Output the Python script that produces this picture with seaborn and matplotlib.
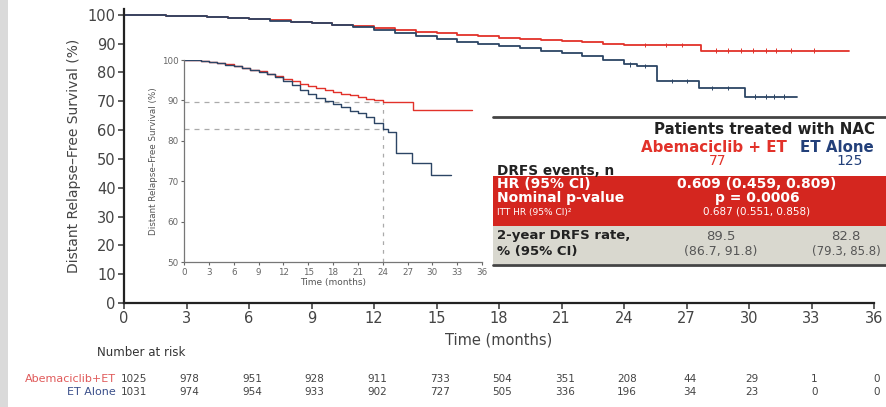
import numpy as np
import pandas as pd
import matplotlib
matplotlib.use("Agg")
import matplotlib.pyplot as plt
from matplotlib.patches import Rectangle
from matplotlib.transforms import blended_transform_factory
import seaborn as sns

# ---------------- data ----------------
abema_t = [0, 1, 2, 3, 4, 5, 6, 7, 8, 9, 10, 11, 12, 13, 14, 15, 16, 17, 18, 19, 20, 21, 22, 23, 24, 27.7, 34.8]
abema_s = [100, 99.9, 99.7, 99.5, 99.2, 98.9, 98.5, 98.1, 97.6, 97.2, 96.6, 96.0, 95.3, 94.7, 94.1, 93.6, 93.1, 92.6, 92.1, 91.7, 91.3, 90.9, 90.4, 90.0, 89.5, 87.6, 87.6]
et_t = [0, 1, 2, 3, 4, 5, 6, 7, 8, 9, 10, 11, 12, 13, 14, 15, 16, 17, 18, 19, 20, 21, 22, 23, 24, 24.6, 25.6, 27.6, 29.8, 32.3]
et_s = [100, 99.9, 99.7, 99.5, 99.2, 98.8, 98.4, 98.0, 97.5, 97.0, 96.5, 95.8, 94.8, 93.7, 92.6, 91.5, 90.6, 89.9, 89.0, 88.3, 87.5, 86.8, 85.8, 84.4, 82.8, 82.2, 77.0, 74.6, 71.6, 71.6]
abema_cens = [25.0, 26.0, 26.8, 28.4, 29.0, 29.6, 30.2, 30.8, 31.3, 32.0, 33.1]
et_cens = [24.3, 25.0, 26.3, 27.0, 28.2, 29.0, 30.3, 30.8, 31.2, 31.7]

months = list(range(0, 37, 3))
risk_abema = [1025, 978, 951, 928, 911, 733, 504, 351, 208, 44, 29, 1, 0]
risk_et = [1031, 974, 954, 933, 902, 727, 505, 336, 196, 34, 23, 0, 0]

arm_names = ["Abemaciclib + ET", "ET Alone"]
events = ["77", "125"]
hr_text = "0.609 (0.459, 0.809)"
p_text = "p = 0.0006"
itt_text = "0.687 (0.551, 0.858)"
rate_vals = ["89.5", "82.8"]
rate_ci = ["(86.7, 91.8)", "(79.3, 85.8)"]

RED = "#e2322a"
BLUE = "#2c4565"
NAVY = "#23407a"

# --------------- setup ---------------
sns.set_theme(style="ticks")
plt.rcParams["font.family"] = ["DejaVu Sans"]

W, H = 886, 407
fig = plt.figure(figsize=(W / 100, H / 100), dpi=100)
fig.patch.set_facecolor("white")


def fx(px):
    return px / W


def fy(py):
    return 1 - py / H


def step_val(t_arr, s_arr, x):
    idx = np.searchsorted(np.asarray(t_arr), x, side="right") - 1
    return np.asarray(s_arr)[idx]


df = pd.concat([
    pd.DataFrame({"t": abema_t, "s": abema_s, "arm": "Abemaciclib+ET"}),
    pd.DataFrame({"t": et_t, "s": et_s, "arm": "ET Alone"}),
])
palette = {"Abemaciclib+ET": RED, "ET Alone": BLUE}

cens_df = pd.concat([
    pd.DataFrame({"t": abema_cens, "s": step_val(abema_t, abema_s, abema_cens), "arm": "Abemaciclib+ET"}),
    pd.DataFrame({"t": et_cens, "s": step_val(et_t, et_s, et_cens), "arm": "ET Alone"}),
])

# gray strip on left edge
fig.add_artist(Rectangle((0, 0), fx(8), 1, transform=fig.transFigure, facecolor="#dadada", edgecolor="none"))

# --------------- main axes ---------------
ax = fig.add_axes([fx(124), fy(303), fx(874) - fx(124), fy(9) - fy(303)])
sns.lineplot(data=df, x="t", y="s", hue="arm", palette=palette, drawstyle="steps-post",
             estimator=None, sort=False, lw=1.3, legend=False, ax=ax)
sns.scatterplot(data=cens_df, x="t", y="s", hue="arm", palette=palette, marker="|", s=12,
                linewidth=0.7, legend=False, ax=ax)
ax.set_xlim(0, 36)
ax.set_ylim(0, 102)
ax.set_xticks(months)
ax.set_yticks(range(0, 101, 10))
ax.set_xlabel("Time (months)", fontsize=10.5, color="#444")
ax.set_ylabel("Distant Relapse\u2013Free Survival (%)", fontsize=10, color="#444", labelpad=5)
ax.xaxis.set_label_coords(0.5, -0.1)
ax.tick_params(axis="both", labelsize=10.5, colors="#444", length=4, width=1.2, direction="out", pad=2)
for sp in ["left", "bottom"]:
    ax.spines[sp].set_linewidth(1.6)
    ax.spines[sp].set_color("#222")
sns.despine(ax=ax)
ax.set_facecolor("white")

# --------------- inset ---------------
ins = fig.add_axes([fx(184), fy(262), fx(482) - fx(184), fy(60) - fy(262)])
ins.set_facecolor("white")
sns.lineplot(data=df, x="t", y="s", hue="arm", palette=palette, drawstyle="steps-post",
             estimator=None, sort=False, lw=1.0, legend=False, ax=ins)
ins.plot([0, 24], [float(rate_vals[0])] * 2, ls=(0, (4, 4)), color="#aaaaaa", lw=0.9, zorder=1)
ins.plot([0, 24], [float(rate_vals[1])] * 2, ls=(0, (4, 4)), color="#aaaaaa", lw=0.9, zorder=1)
ins.plot([24, 24], [50, float(rate_vals[0])], ls=(0, (3, 4)), color="#aaaaaa", lw=0.9, zorder=1)
ins.set_xlim(0, 36)
ins.set_ylim(50, 100)
ins.set_xticks(months)
ins.set_yticks(range(50, 101, 10))
ins.set_xlabel("Time (months)", fontsize=6.5, color="#555", labelpad=1)
ins.set_ylabel("Distant Relapse\u2013Free Survival (%)", fontsize=6.3, color="#555", labelpad=3)
ins.tick_params(axis="both", labelsize=6.3, colors="#666", length=2, width=0.8, pad=2)
for sp in ["left", "bottom"]:
    ins.spines[sp].set_linewidth(0.9)
    ins.spines[sp].set_color("#777")
sns.despine(ax=ins)

# --------------- table ---------------
x0 = fx(493)
fig.add_artist(plt.Line2D([x0, 1], [fy(117), fy(117)], transform=fig.transFigure, color="#444", lw=2))
fig.add_artist(Rectangle((x0, fy(226)), 1 - x0, fy(176) - fy(226), transform=fig.transFigure,
                         facecolor="#d4261f", edgecolor="none"))
fig.add_artist(Rectangle((x0, fy(264)), 1 - x0, fy(226) - fy(264), transform=fig.transFigure,
                         facecolor="#d9d8cf", edgecolor="none"))
fig.add_artist(plt.Line2D([x0, 1], [fy(265), fy(265)], transform=fig.transFigure, color="#444", lw=2))

fig.text(fx(764), fy(129), "Patients treated with NAC", ha="center", va="center",
         fontsize=10.8, fontweight="bold", color="#222")
fig.text(fx(714), fy(147), arm_names[0], ha="center", va="center", fontsize=10.8,
         fontweight="bold", color=RED)
fig.text(fx(837), fy(147), arm_names[1], ha="center", va="center", fontsize=10.8,
         fontweight="bold", color=NAVY)
fig.text(fx(718), fy(161), events[0], ha="center", va="center", fontsize=10, color=RED)
fig.text(fx(850), fy(161), events[1], ha="center", va="center", fontsize=10, color=NAVY)
fig.text(fx(497), fy(171), "DRFS events, n", ha="left", va="center", fontsize=9.8,
         fontweight="bold", color="#222")

fig.text(fx(497), fy(184), "HR (95% CI)", ha="left", va="center", fontsize=10, fontweight="bold", color="white")
fig.text(fx(497), fy(198), "Nominal p-value", ha="left", va="center", fontsize=10, fontweight="bold", color="white")
fig.text(fx(497), fy(212), "ITT HR (95% CI)\u00b2", ha="left", va="center", fontsize=6.5, color="white")
fig.text(fx(757), fy(184), hr_text, ha="center", va="center", fontsize=10, fontweight="bold", color="white")
fig.text(fx(757), fy(198), p_text, ha="center", va="center", fontsize=10, fontweight="bold", color="white")
fig.text(fx(757), fy(212), itt_text, ha="center", va="center", fontsize=7.5, color="white")

fig.text(fx(497), fy(236), "2-year DRFS rate,", ha="left", va="center", fontsize=9.5, fontweight="bold", color="#222")
fig.text(fx(497), fy(252), "% (95% CI)", ha="left", va="center", fontsize=9.5, fontweight="bold", color="#222")
fig.text(fx(721), fy(236), rate_vals[0], ha="center", va="center", fontsize=9.5, color="#555")
fig.text(fx(721), fy(252), rate_ci[0], ha="center", va="center", fontsize=9, color="#555")
fig.text(fx(846), fy(236), rate_vals[1], ha="center", va="center", fontsize=9.5, color="#555")
fig.text(fx(846), fy(252), rate_ci[1], ha="center", va="center", fontsize=8.5, color="#555")

# --------------- number at risk ---------------
tr = blended_transform_factory(ax.transData, fig.transFigure)
fig.text(fx(97), fy(353), "Number at risk", ha="left", va="center", fontsize=8.5, color="#333")
fig.text(fx(116), fy(379), "Abemaciclib+ET", ha="right", va="center", fontsize=8, color="#e05a5a")
fig.text(fx(116), fy(392), "ET Alone", ha="right", va="center", fontsize=8, color="#3a4f8a")
for i, m in enumerate(months):
    xoff = 0.5 if i == 0 else 0.15
    ax.text(m + xoff, fy(379), str(risk_abema[i]), transform=tr, ha="center", va="center",
            fontsize=7.5, color="#444", clip_on=False)
    ax.text(m + xoff, fy(392), str(risk_et[i]), transform=tr, ha="center", va="center",
            fontsize=7.5, color="#444", clip_on=False)

fig.savefig("out.png", dpi=100, facecolor="white")
